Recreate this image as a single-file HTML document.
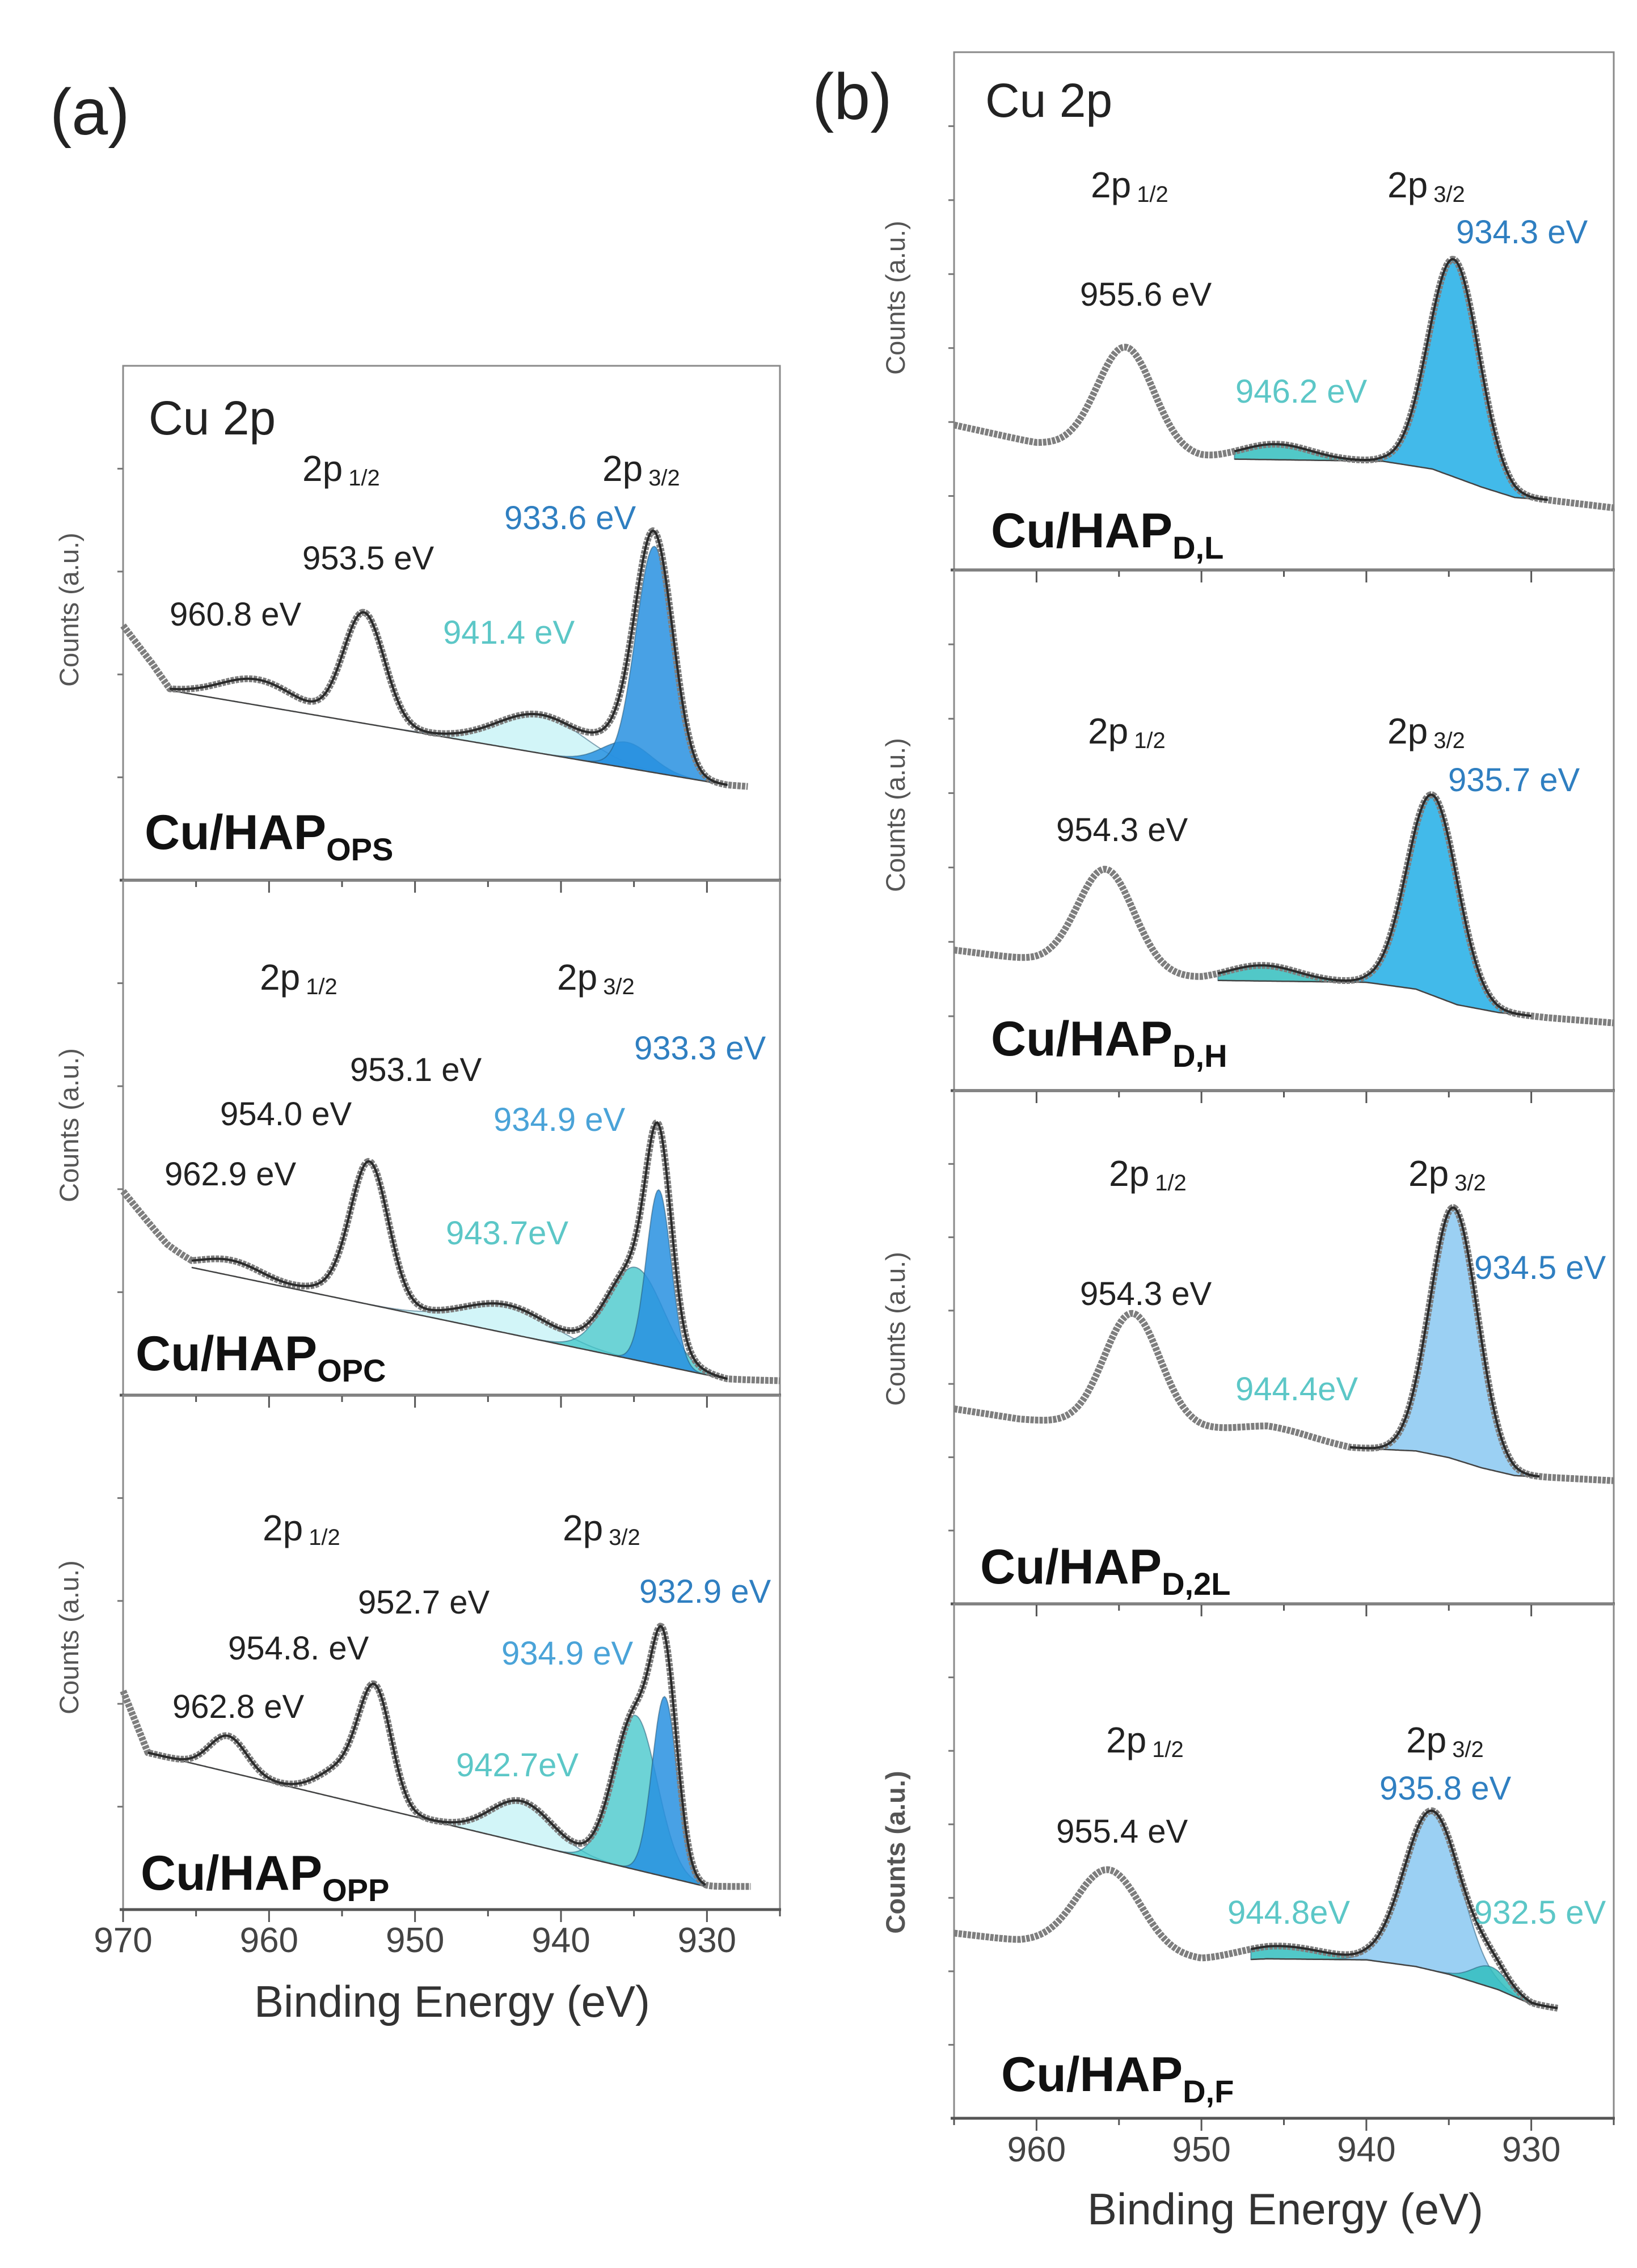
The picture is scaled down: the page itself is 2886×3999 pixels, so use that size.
<!DOCTYPE html>
<html><head><meta charset="utf-8"><style>
html,body{margin:0;padding:0;background:#fff}
svg{display:block;font-family:"Liberation Sans",Arial,sans-serif}
.t{fill:#222}.lb{font-size:58px}.blue{fill:#2f7fc1}.lblue{fill:#4aa3d8}.cyan{fill:#5cc7c7}
.pk{font-size:64px;fill:#222}.sub{font-size:40px}
.samp{font-size:86px;font-weight:bold;fill:#111}.ss{font-size:56px}
.yl{font-size:47px;fill:#555}.tk{font-size:62px;fill:#444}.xt{font-size:78px;fill:#333}
</style></head><body>
<svg id="fig" width="2886" height="3999" viewBox="0 0 2886 3999" xmlns="http://www.w3.org/2000/svg">
<rect width="2886" height="3999" fill="#fff"/>
<g id="marks"></g>
<g>
<text x="88" y="237" font-size="115" fill="#222">(a)</text>
<text x="1432" y="210" font-size="115" fill="#222">(b)</text>

<text x="262" y="766" font-size="84" fill="#222">Cu 2p</text>
<text class="pk" x="533" y="848">2p<tspan class="sub" dx="10" dy="8">1/2</tspan></text>
<text class="pk" x="1062" y="848">2p<tspan class="sub" dx="10" dy="8">3/2</tspan></text>
<text class="lb blue" x="889" y="933">933.6 eV</text>
<text class="lb t" x="533" y="1004">953.5 eV</text>
<text class="lb t" x="299" y="1103">960.8 eV</text>
<text class="lb cyan" x="781" y="1135">941.4 eV</text>
<text class="samp" x="255" y="1497">Cu/HAP<tspan class="ss" dy="20">OPS</tspan></text>
<text class="yl" transform="translate(138,1075) rotate(-90)" text-anchor="middle">Counts (a.u.)</text>

<text class="pk" x="458" y="1745">2p<tspan class="sub" dx="10" dy="8">1/2</tspan></text>
<text class="pk" x="982" y="1745">2p<tspan class="sub" dx="10" dy="8">3/2</tspan></text>
<text class="lb blue" x="1118" y="1868">933.3 eV</text>
<text class="lb t" x="617" y="1906">953.1 eV</text>
<text class="lb lblue" x="870" y="1994">934.9 eV</text>
<text class="lb t" x="388" y="1984">954.0 eV</text>
<text class="lb t" x="290" y="2090">962.9 eV</text>
<text class="lb cyan" x="786" y="2194">943.7eV</text>
<text class="samp" x="239" y="2416">Cu/HAP<tspan class="ss" dy="20">OPC</tspan></text>
<text class="yl" transform="translate(138,1984) rotate(-90)" text-anchor="middle">Counts (a.u.)</text>

<text class="pk" x="463" y="2716">2p<tspan class="sub" dx="10" dy="8">1/2</tspan></text>
<text class="pk" x="992" y="2716">2p<tspan class="sub" dx="10" dy="8">3/2</tspan></text>
<text class="lb blue" x="1127" y="2826">932.9 eV</text>
<text class="lb t" x="631" y="2845">952.7 eV</text>
<text class="lb t" x="402" y="2926">954.8. eV</text>
<text class="lb lblue" x="884" y="2935">934.9 eV</text>
<text class="lb t" x="304" y="3029">962.8 eV</text>
<text class="lb cyan" x="804" y="3132">942.7eV</text>
<text class="samp" x="248" y="3332">Cu/HAP<tspan class="ss" dy="20">OPP</tspan></text>
<text class="yl" transform="translate(138,2887) rotate(-90)" text-anchor="middle">Counts (a.u.)</text>
<text class="xt" x="797" y="3556" text-anchor="middle">Binding Energy (eV)</text>

<text x="1737" y="206" font-size="84" fill="#222">Cu 2p</text>
<text class="pk" x="1923" y="348">2p<tspan class="sub" dx="10" dy="8">1/2</tspan></text>
<text class="pk" x="2446" y="348">2p<tspan class="sub" dx="10" dy="8">3/2</tspan></text>
<text class="lb blue" x="2567" y="429">934.3 eV</text>
<text class="lb t" x="1904" y="539">955.6 eV</text>
<text class="lb cyan" x="2178" y="710">946.2 eV</text>
<text class="samp" x="1747" y="965">Cu/HAP<tspan class="ss" dy="20">D,L</tspan></text>
<text class="yl" transform="translate(1595,525) rotate(-90)" text-anchor="middle">Counts (a.u.)</text>

<text class="pk" x="1918" y="1311">2p<tspan class="sub" dx="10" dy="8">1/2</tspan></text>
<text class="pk" x="2446" y="1311">2p<tspan class="sub" dx="10" dy="8">3/2</tspan></text>
<text class="lb blue" x="2553" y="1395">935.7 eV</text>
<text class="lb t" x="1862" y="1483">954.3 eV</text>
<text class="samp" x="1747" y="1861">Cu/HAP<tspan class="ss" dy="20">D,H</tspan></text>
<text class="yl" transform="translate(1595,1437) rotate(-90)" text-anchor="middle">Counts (a.u.)</text>

<text class="pk" x="1955" y="2091">2p<tspan class="sub" dx="10" dy="8">1/2</tspan></text>
<text class="pk" x="2483" y="2091">2p<tspan class="sub" dx="10" dy="8">3/2</tspan></text>
<text class="lb blue" x="2599" y="2255">934.5 eV</text>
<text class="lb t" x="1904" y="2301">954.3 eV</text>
<text class="lb cyan" x="2178" y="2469">944.4eV</text>
<text class="samp" x="1728" y="2792">Cu/HAP<tspan class="ss" dy="20">D,2L</tspan></text>
<text class="yl" transform="translate(1595,2343) rotate(-90)" text-anchor="middle">Counts (a.u.)</text>

<text class="pk" x="1950" y="3090">2p<tspan class="sub" dx="10" dy="8">1/2</tspan></text>
<text class="pk" x="2479" y="3090">2p<tspan class="sub" dx="10" dy="8">3/2</tspan></text>
<text class="lb blue" x="2432" y="3173">935.8 eV</text>
<text class="lb t" x="1862" y="3249">955.4 eV</text>
<text class="lb cyan" x="2164" y="3392">944.8eV</text>
<text class="lb cyan" x="2599" y="3392">932.5 eV</text>
<text class="samp" x="1765" y="3687">Cu/HAP<tspan class="ss" dy="20">D,F</tspan></text>
<text class="yl" font-weight="bold" transform="translate(1595,3266) rotate(-90)" text-anchor="middle">Counts (a.u.)</text>
<text class="xt" x="2266" y="3922" text-anchor="middle">Binding Energy (eV)</text>
</g>
</svg>
<script>
const opsBackground = [[970,0.495],[968,0.42],[966.8,0.369],[928.6,0.185],[925,0.178]];
const opsComponents = [[960.8,0.05,6,'none'],[953.5,0.215,3.3,'none'],[941.4,0.075,7,'sat'],[935.5,0.05,4,'main'],[933.6,0.44,3.0,'main']];
const opsFitRange = [966.8,928.6];
const opsDataRange = [970,927.2];

const opcBackground = [[970,0.396],[967,0.29],[965.3,0.248],[928.6,0.031],[925,0.028]];
const opcComponents = [[962.6,0.03,5,'none'],[953.1,0.25,3.0,'none'],[954.0,0.03,5,'none'],[943.7,0.055,7,'sat'],[934.9,0.18,4.5,'teal'],[933.3,0.34,2.0,'main']];
const opcFitRange = [965.3,928.6];
const opcDataRange = [970,925];

const oppBackground = [[970,0.425],[968.3,0.305],[930.1,0.045],[925,0.045]];
const oppComponents = [[962.8,0.07,3,'none'],[954.8,0.06,4,'none'],[952.7,0.21,2.6,'none'],[942.7,0.08,5,'sat'],[934.9,0.30,3.5,'teal'],[932.9,0.35,2.0,'main']];
const oppFitRange = [968.3,930.1];
const oppDataRange = [970,927];

const dlBackground = [[965,0.28],[960,0.245],[956,0.235],[950,0.215],[939,0.21],[936,0.195],[933,0.16],[931,0.14],[929,0.135],[925,0.12]];
const dlComponents = [[954.6,0.20,4,'none'],[945.5,0.03,5,'cyan'],[934.7,0.42,3.6,'mainB']];
const dlFitRange = [948,929];
const dlDataRange = [965,925];

const dhBackground = [[965,0.27],[960,0.25],[957,0.24],[950,0.212],[940,0.208],[937,0.195],[934.5,0.165],[932,0.15],[929,0.14],[925,0.13]];
const dhComponents = [[955.8,0.19,4,'none'],[946.3,0.03,5,'cyan'],[936.0,0.385,3.6,'mainB']];
const dhFitRange = [949,930];
const dhDataRange = [965,925];

const d2lBackground = [[965,0.38],[961,0.36],[957,0.35],[950,0.34],[946,0.335],[941,0.304],[937,0.298],[935,0.285],[933,0.265],[931,0.25],[925,0.24]];
const d2lComponents = [[954.2,0.22,4,'none'],[945.5,0.012,5,'cyan'],[934.7,0.49,3.4,'main2']];
const d2lFitRange = [941,929.5];
const d2lDataRange = [965,925];

const dfBackground = [[965,0.36],[961,0.345],[957,0.34],[950,0.305],[946,0.31],[940,0.308],[937,0.295],[935,0.28],[932,0.25],[930,0.222],[928.4,0.214]];
const dfComponents = [[955.6,0.15,4.5,'none'],[945.3,0.025,6,'cyan'],[936.0,0.31,4.0,'main2'],[932.5,0.04,2.5,'cyan']];
const dfFitRange = [947,928.4];
const dfDataRange = [965,928.4];

const aTickLabels = [970,960,950,940,930];
const bTickLabels = [960,950,940,930];

const NS = 'http://www.w3.org/2000/svg';
const marks = document.getElementById('marks');
const fills = {main:'rgba(40,145,225,0.85)', mainB:'rgba(50,180,232,0.92)', main2:'rgba(150,205,242,0.95)', sat:'rgba(205,244,247,0.9)', teal:'rgba(60,196,200,0.75)', cyan:'rgba(50,190,190,0.85)'};
const panels = [
 {name:'ops', x0:217,x1:1375,e0:970,e1:925,yt:645,yb:1552,bg:opsBackground,comp:opsComponents,fit:opsFitRange,data:opsDataRange,ticks:4,axis:false},
 {name:'opc', x0:217,x1:1375,e0:970,e1:925,yt:1552,yb:2460,bg:opcBackground,comp:opcComponents,fit:opcFitRange,data:opcDataRange,ticks:4,axis:false},
 {name:'opp', x0:217,x1:1375,e0:970,e1:925,yt:2460,yb:3367,bg:oppBackground,comp:oppComponents,fit:oppFitRange,data:oppDataRange,ticks:4,axis:true,labels:aTickLabels,ly:3442},
 {name:'dl', x0:1682,x1:2845,e0:965,e1:925,yt:92,yb:1005,bg:dlBackground,comp:dlComponents,fit:dlFitRange,data:dlDataRange,ticks:6,axis:false},
 {name:'dh', x0:1682,x1:2845,e0:965,e1:925,yt:1005,yb:1923,bg:dhBackground,comp:dhComponents,fit:dhFitRange,data:dhDataRange,ticks:6,axis:false},
 {name:'d2l', x0:1682,x1:2845,e0:965,e1:925,yt:1923,yb:2828,bg:d2lBackground,comp:d2lComponents,fit:d2lFitRange,data:d2lDataRange,ticks:6,axis:false},
 {name:'df', x0:1682,x1:2845,e0:965,e1:925,yt:2828,yb:3735,bg:dfBackground,comp:dfComponents,fit:dfFitRange,data:dfDataRange,ticks:6,axis:true,labels:bTickLabels,ly:3811}
];
function sx(p,E){return p.x0+(p.e0-E)/(p.e0-p.e1)*(p.x1-p.x0);}
function sy(p,f){return p.yb-f*(p.yb-p.yt);}
function bgAt(p,E){const k=p.bg;
 if(E>=k[0][0])return k[0][1];
 for(let i=0;i<k.length-1;i++){const a=k[i],b=k[i+1];
  if(E<=a[0]&&E>=b[0]){return a[1]+(b[1]-a[1])*(a[0]-E)/(a[0]-b[0]);}}
 return k[k.length-1][1];}
function g(c,E){return c[1]*Math.exp(-4*Math.LN2*Math.pow((E-c[0])/c[2],2));}
function env(p,E){let s=bgAt(p,E);p.comp.forEach(c=>s+=g(c,E));return s;}
function el(tag,attrs){const e=document.createElementNS(NS,tag);for(const k in attrs)e.setAttribute(k,attrs[k]);marks.appendChild(e);return e;}
function range(a,b){const r=[];for(let E=a;E>=b-1e-9;E-=0.1)r.push(E);return r;}

panels.forEach(p=>{
 const fr=el('rect',{x:p.x0,y:p.yt,width:p.x1-p.x0,height:p.yb-p.yt,fill:'none',stroke:'#8a8a8a','stroke-width':3});
 
 
 for(let i=1;i<=p.ticks;i++){const y=p.yb-i*(p.yb-p.yt)/(p.ticks+1);
  const t=el('line',{x1:p.x0-10,x2:p.x0,y1:y,y2:y,stroke:'#777','stroke-width':3});
  
  }
 const ax=el('line',{x1:p.x0-6,x2:p.x1+2,y1:p.yb,y2:p.yb,stroke:'#555','stroke-width':5});
 
 
 for(let E=p.e0;E>=p.e1;E-=5){const x=sx(p,E);const major=(E%10===0);
  const t=el('line',{x1:x,x2:x,y1:p.yb,y2:p.yb+(major?22:12),stroke:'#555','stroke-width':3});
  
  }
 if(p.axis){p.labels.forEach(v=>{const t=el('text',{x:sx(p,v),y:p.ly,'text-anchor':'middle','font-size':62,fill:'#444'});
  t.textContent=String(v);
  
  });}
 const fitE=range(p.fit[0],p.fit[1]);
 p.comp.forEach(c=>{if(c[3]==='none')return;
  let top=fitE.map(E=>sx(p,E).toFixed(1)+','+sy(p,bgAt(p,E)+g(c,E)).toFixed(1));
  let bot=fitE.slice().reverse().map(E=>sx(p,E).toFixed(1)+','+sy(p,bgAt(p,E)).toFixed(1));
  const f=el('polygon',{points:top.concat(bot).join(' '),fill:fills[c[3]],stroke:'rgba(30,80,110,0.5)','stroke-width':2});
  
  });
 const bl=el('polyline',{points:fitE.map(E=>sx(p,E).toFixed(1)+','+sy(p,bgAt(p,E)).toFixed(1)).join(' '),fill:'none',stroke:'#444','stroke-width':2.5});
 
 
 const dE=range(p.data[0],p.data[1]);
 const dpts=dE.map(E=>sx(p,E).toFixed(1)+','+sy(p,env(p,E)).toFixed(1)).join(' ');
 const d=el('polyline',{points:dpts,fill:'none',stroke:'#7e7e7e','stroke-width':12,'stroke-dasharray':'6 2','stroke-linejoin':'round'});
 
 
 const fl=el('polyline',{points:fitE.map(E=>sx(p,E).toFixed(1)+','+sy(p,env(p,E)).toFixed(1)).join(' '),fill:'none',stroke:'#2a2a2a','stroke-width':4});
 
 
});
</script>
</body></html>
